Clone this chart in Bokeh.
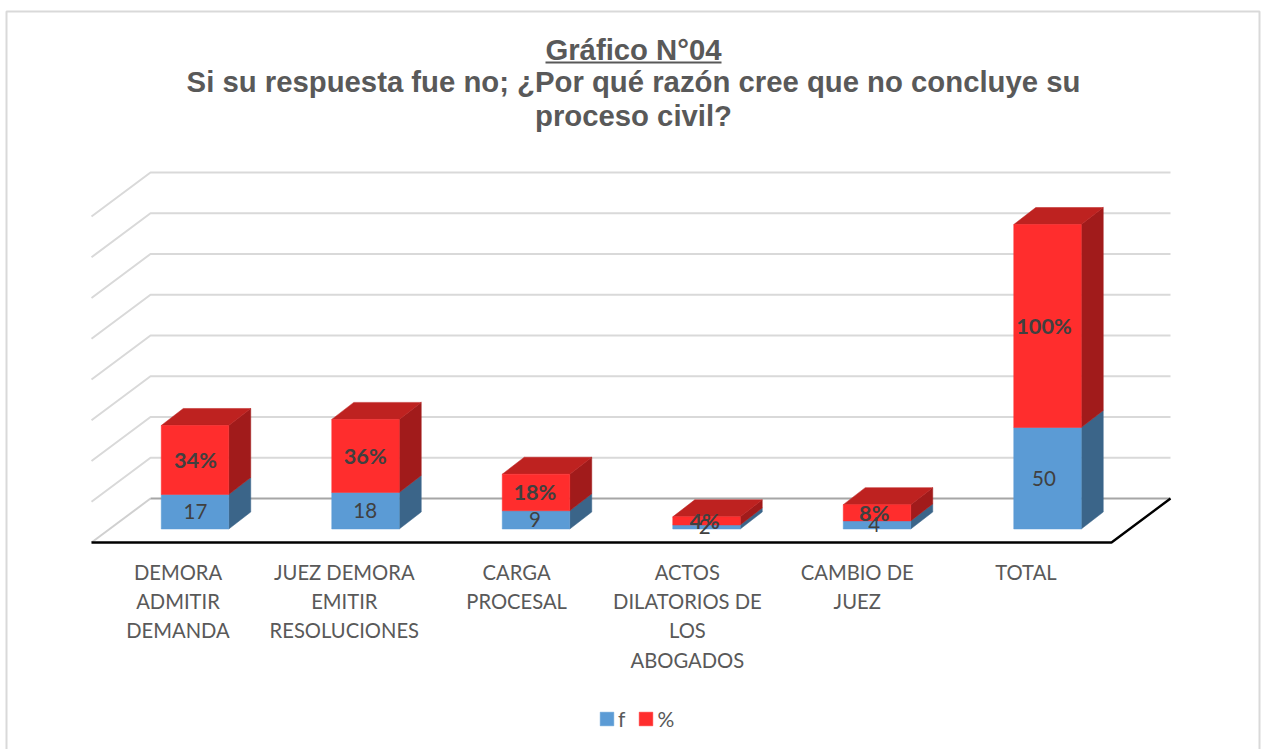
from bokeh.plotting import figure
from bokeh.models import Range1d, Legend, LegendItem
from bokeh.core.properties import value
from bokeh.embed import file_html
from bokeh.resources import INLINE

title_main = "Gráfico N°04"
title_lines = ["Si su respuesta fue no; ¿Por qué razón cree que no concluye su", "proceso civil?"]
categories = ["DEMORA\nADMITIR\nDEMANDA", "JUEZ DEMORA\nEMITIR\nRESOLUCIONES", "CARGA\nPROCESAL",
              "ACTOS\nDILATORIOS DE\nLOS\nABOGADOS", "CAMBIO DE\nJUEZ", "TOTAL"]
f_values = [17, 18, 9, 2, 4, 50]
pct_values = [34, 36, 18, 4, 8, 100]
grid_values = [0, 20, 40, 60, 80, 100, 120, 140, 160]

W, H = 1265, 749
PX_X, PX_Y = 170.5, 2.03   # pixels per category, pixels per value unit
X0, Y0 = 194.5, 528.5      # canvas pixel of category 0, value 0
FONT, HEAD = value("Lato"), value("Liberation Sans")
label_nudge = [0, -3.5, -1, 0, 0, -1]

def X(px): return (px - X0) / PX_X
def Y(py): return (Y0 - py) / PX_Y

p = figure(width=W, height=H, output_backend="svg", toolbar_location=None, min_border=0,
           x_range=Range1d(X(0), X(W)), y_range=Range1d(Y(H), Y(0)),
           background_fill_color="white", border_fill_color="white", outline_line_color=None)
p.axis.visible = False
p.grid.visible = False

# chart area border
p.line([X(6), X(6), X(1259), X(1259)], [Y(749), Y(11), Y(11), Y(749)], line_color="#D9D9D9", line_width=2)

# 3D wall + floor
wall_base = Y(498)
wall_scale = 40.75 / (20 * PX_Y)
dx_floor, dy_floor = 59 / PX_X, 44 / PX_Y
xl, xr = X(150), X(1170)
for v in grid_values[1:]:
    y = wall_base + v * wall_scale
    p.line([xl - dx_floor, xl, xr], [y - dy_floor, y, y], line_color="#D9D9D9", line_width=2)
p.line([xl - dx_floor, xl], [wall_base - dy_floor, wall_base], line_color="#D0D0D0", line_width=2)
p.line([xl, xr], [wall_base, wall_base], line_color="#A6A6A6", line_width=2)
p.line([xl - dx_floor, xr - dx_floor, xr], [wall_base - dy_floor, wall_base - dy_floor, wall_base],
       line_color="black", line_width=2.4)

# stacked 3D bars
bw = 67.5 / PX_X
dx, dy = 22 / PX_X, 17 / PX_Y
xs = list(range(len(categories)))
f_left = [x - bw / 2 for x in xs]
f_right = [x + bw / 2 for x in xs]
tops = [a + b for a, b in zip(f_values, pct_values)]

def side(x1, lo, hi):
    return [x1, x1 + dx, x1 + dx, x1], [lo, lo + dy, hi + dy, hi]

def top(x0, x1, h):
    return [x0, x0 + dx, x1 + dx, x1], [h, h + dy, h + dy, h]

blue_side = [side(r, 0, a) for r, a in zip(f_right, f_values)]
p.patches([s[0] for s in blue_side], [s[1] for s in blue_side], fill_color="#3B6589", line_color="#3B6589", line_width=0.5)
red_side = [side(r, a, t) for r, a, t in zip(f_right, f_values, tops)]
p.patches([s[0] for s in red_side], [s[1] for s in red_side], fill_color="#A11B1B", line_color="#A11B1B", line_width=0.5)
red_top = [top(l, r, t) for l, r, t in zip(f_left, f_right, tops)]
p.patches([s[0] for s in red_top], [s[1] for s in red_top], fill_color="#BE2220", line_color="#BE2220", line_width=0.5)

blue = p.quad(left=f_left, right=f_right, bottom=[0] * len(xs), top=f_values,
              fill_color="#5B9BD5", line_color="#5B9BD5", line_width=0.5)
red = p.quad(left=f_left, right=f_right, bottom=f_values, top=tops,
             fill_color="#FF2D2D", line_color="#FF2D2D", line_width=0.5)

# data labels
dl_x = [X(195 + 169.7 * i) for i in xs]
p.text(dl_x, [a / 2 for a in f_values], text=[str(a) for a in f_values], text_font=FONT, text_font_size="20.5px",
       text_color="#404040", text_align="center", text_baseline="middle")
p.text(dl_x, [a + b / 2 for a, b in zip(f_values, pct_values)], text=[f"{b}%" for b in pct_values], text_font=FONT,
       text_font_size="21.7px", text_font_style="bold", text_color="#404040", text_align="center", text_baseline="middle")

# category labels
lx, ly, lt = [], [], []
for i, c in enumerate(categories):
    for k, line in enumerate(c.split("\n")):
        lx.append(X(177.5 + 169.8 * i + label_nudge[i]))
        ly.append(Y(571 + 29.4 * k))
        lt.append(line)
p.text(lx, ly, text=lt, text_font=FONT, text_font_size="20.2px", text_color="#595959",
       text_align="center", text_baseline="middle")

# title
cx = X(633)
p.text([cx], [Y(48.5)], text=[title_main], text_font=HEAD, text_font_size="29.3px", text_font_style="bold",
       text_color="#595959", text_align="center", text_baseline="middle")
p.line([X(545), X(721)], [Y(62), Y(62)], line_color="#595959", line_width=2)
p.text([cx, cx], [Y(81), Y(114.5)], text=title_lines, text_font=HEAD, text_font_size="29.3px", text_font_style="bold",
       text_color="#595959", text_align="center", text_baseline="middle")

# legend
legend = Legend(items=[LegendItem(label="f", renderers=[blue]), LegendItem(label="%", renderers=[red])],
                orientation="horizontal", location=(598, H - 731),
                glyph_width=17, glyph_height=17, label_text_font="Lato", label_text_font_size="21px",
                label_text_color="#595959", border_line_color=None, background_fill_alpha=0,
                padding=0, margin=0, spacing=12, label_standoff=3, label_height=20, label_width=5)
p.add_layout(legend, "center")

open("out.html", "w").write(file_html(p, INLINE))
